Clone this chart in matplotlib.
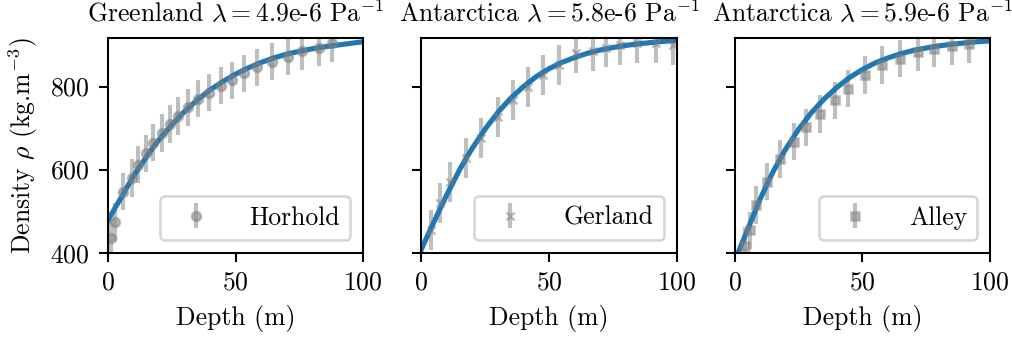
import matplotlib
matplotlib.use("Agg")
import matplotlib.pyplot as plt

plt.rcParams['font.family'] = 'serif'
plt.rcParams['font.serif'] = ['cmr10']
plt.rcParams['mathtext.fontset'] = 'cm'
plt.rcParams['axes.formatter.use_mathtext'] = True
plt.rcParams['font.size'] = 10

horhold_depth = [1.1, 2.7, 6.0, 9.3, 11.9, 14.9, 17.8, 21.1, 24.3, 27.6, 31.5,
                 35.4, 39.7, 44.2, 48.5, 53.1, 58.3, 64.2, 70.7, 76.0, 82.5, 87.7]
horhold_rho = [436, 474, 547, 580, 612, 639, 665, 688, 710, 729, 750,
               771, 785, 802, 815, 832, 846, 860, 872, 885, 894, 905]
horhold_err = 45

gerland_depth = [3.8, 7.2, 11.4, 17.3, 23.4, 30.0, 36.0, 41.7, 47.7, 54.1,
                 60.4, 67.3, 72.2, 78.0, 84.6, 91.8, 98.7]
gerland_rho = [455, 519, 571, 629, 677, 726, 767, 799, 828, 852,
               880, 886, 894, 901, 905, 905, 901]
gerland_err = 48

alley_depth = [4.1, 5.8, 8.4, 12.6, 17.8, 23.3, 28.0, 33.2, 39.1, 44.5,
               51.1, 57.8, 64.8, 71.9, 78.2, 85.2, 91.9]
alley_rho = [417, 454, 515, 571, 626, 667, 702, 734, 767, 795,
             828, 852, 867, 883, 891, 897, 902]
alley_err = 45

# ---- fitted model curves ----
model_depth = [0, 2.5, 5, 7.5, 10, 12.5, 15, 17.5, 20, 25, 30, 35, 40, 45, 50,
               55, 60, 65, 70, 75, 80, 85, 90, 95, 100]
greenland_fit = [478, 505, 531, 558, 584, 608, 630, 652, 672, 708, 740, 768, 792,
                 812, 830, 845, 858, 869, 878, 885, 891, 896, 900, 904, 908]
antarctica1_fit = [408, 442, 475, 508, 540, 570, 600, 627, 652, 698, 738, 772, 800,
                   824, 843, 858, 870, 880, 888, 894, 899, 903, 906, 909, 911]
antarctica2_fit = [380, 418, 455, 493, 530, 563, 595, 623, 650, 697, 737, 770, 798,
                   822, 841, 857, 869, 879, 887, 893, 898, 902, 905, 908, 910]

titles = [r'Greenland $\lambda = 4.9$e-6 Pa$^{-1}$',
          r'Antarctica $\lambda = 5.8$e-6 Pa$^{-1}$',
          r'Antarctica $\lambda = 5.9$e-6 Pa$^{-1}$']

panels = [
    (horhold_depth, horhold_rho, horhold_err, 'o', 'Horhold', greenland_fit),
    (gerland_depth, gerland_rho, gerland_err, 'x', 'Gerland', antarctica1_fit),
    (alley_depth, alley_rho, alley_err, 's', 'Alley', antarctica2_fit),
]

fig, axes = plt.subplots(1, 3, sharey=True, figsize=(1013 / 185, 341 / 185), dpi=185)
fig.subplots_adjust(left=0.1066, right=0.9773, bottom=0.259, top=0.8886, wspace=0.228)

for ax, (d, r, e, m, lab, fit), t in zip(axes, panels, titles):
    ax.errorbar(d, r, yerr=e, fmt=m, color='gray', alpha=0.5, markersize=3.5,
                elinewidth=1.6, label=lab)
    ax.plot(model_depth, fit, color='tab:blue', lw=2)
    ax.set_xlim(0, 100)
    ax.set_ylim(400, 917)
    ax.set_xticks([0, 50, 100])
    ax.set_yticks([400, 600, 800])
    ax.set_xlabel('Depth (m)')
    ax.set_title(t, fontsize=10)
    ax.legend(loc='lower right', handletextpad=1.1)

axes[0].set_ylabel(r'Density $\rho$ (kg.m$^{-3}$)')

fig.savefig('out.png', dpi=185)
